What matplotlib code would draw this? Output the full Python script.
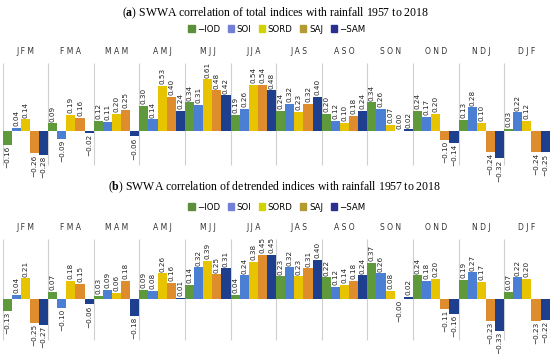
import numpy as np
import matplotlib.pyplot as plt
from matplotlib.patches import Patch

plt.rcParams['mathtext.fontset'] = 'custom'
plt.rcParams['mathtext.rm'] = 'Liberation Serif'
plt.rcParams['mathtext.bf'] = 'Liberation Serif:bold'

seasons = ["JFM", "FMA", "MAM", "AMJ", "MJJ", "JJA", "JAS", "ASO", "SON", "OND", "NDJ", "DJF"]
index_names = ["\u2212IOD", "SOI", "SORD", "SAJ", "\u2212SAM"]

# (a) total indices
tot_iod = [-0.16, 0.09, 0.12, 0.30, 0.34, 0.19, 0.24, 0.20, 0.34, 0.24, 0.13, 0.03]
tot_soi = [0.04, -0.09, 0.11, 0.14, 0.31, 0.26, 0.32, 0.12, 0.26, 0.17, 0.28, 0.22]
tot_sord = [0.14, 0.19, 0.20, 0.53, 0.61, 0.54, 0.23, 0.10, 0.07, 0.20, 0.10, 0.12]
tot_saj = [-0.26, 0.16, 0.25, 0.40, 0.48, 0.54, 0.32, 0.18, 0.00, -0.10, -0.24, -0.24]
tot_sam = [-0.28, -0.02, -0.06, 0.24, 0.42, 0.48, 0.40, 0.24, 0.02, -0.14, -0.32, -0.25]

# (b) detrended indices
det_iod = [-0.13, 0.07, 0.03, 0.09, 0.14, 0.04, 0.23, 0.22, 0.37, 0.24, 0.19, 0.07]
det_soi = [0.04, -0.10, 0.09, 0.08, 0.32, 0.24, 0.32, 0.12, 0.26, 0.18, 0.27, 0.22]
det_sord = [0.21, 0.18, 0.06, 0.26, 0.39, 0.38, 0.23, 0.14, 0.08, 0.20, 0.17, 0.20]
det_saj = [-0.25, 0.15, 0.18, 0.16, 0.25, 0.45, 0.31, 0.18, -0.0, -0.11, -0.23, -0.23]
det_sam = [-0.27, -0.06, -0.18, 0.01, 0.31, 0.45, 0.40, 0.24, 0.02, -0.16, -0.33, -0.22]

bar_colors = ["#5e9a3c", "#4a7fd4", "#e8c400", "#de8c2c", "#1d3f8e"]
legend_colors = ["#5b8f3a", "#7480d8", "#d2d200", "#b39a32", "#2b2f8f"]

fig = plt.figure(figsize=(5.5, 3.54), dpi=100)


def draw_panel(rect, series, ylim, month_y, sep_top, sep_bot, gap):
    ax = fig.add_axes(rect)
    for j, (vals, color) in enumerate(zip(series, bar_colors)):
        x = np.arange(len(seasons)) * 5 + j + 0.5
        ax.bar(x, vals, width=1.0, color=color, linewidth=0)
        for xi, v in zip(x, vals):
            txt = ("%.2f" % v).replace("-", "\u2212")
            if np.signbit(v):
                ax.text(xi, v - gap * 0.6, txt, rotation=90, ha='center', va='top',
                        fontsize=5.2, color='#222222')
            else:
                ax.text(xi, v + gap, txt, rotation=90, ha='center', va='bottom',
                        fontsize=5.2, color='#222222')
    ax.vlines(np.arange(0, 60, 5), sep_bot, sep_top, color='#d0d0d0', linewidth=0.8, zorder=0)
    for k, s in enumerate(seasons):
        ax.text(k * 5 + 2.5, month_y, " ".join(s), ha='center', va='center',
                fontsize=5.5, color='#333333')
    ax.set_xlim(0, 60)
    ax.set_ylim(*ylim)
    ax.axis('off')
    return ax


def add_header(letter, title, title_y, legend_y):
    fig.text(0.5, 1 - title_y / 354, r"($\mathbf{%s}$) " % letter + title,
             ha='center', va='center', fontsize=8.5, family='Liberation Serif')
    handles = [Patch(color=c) for c in legend_colors]
    fig.legend(handles, index_names, loc='center', bbox_to_anchor=(277 / 550, 1 - legend_y / 354),
               ncol=5, frameon=False, handlelength=0.7, handleheight=0.7,
               handletextpad=0.3, columnspacing=0.9, fontsize=6.2)


left = 2.5 / 550
width = 547.2 / 550

draw_panel([left, 1 - 172 / 354, width, 128 / 354],
           [tot_iod, tot_soi, tot_sord, tot_saj, tot_sam],
           (-0.48, 1.024), 0.93, 0.80, -0.40, 0.02)
add_header("a", "SWWA correlation of total indices with rainfall 1957 to 2018", 13, 29)

draw_panel([left, 5 / 354, width, 131 / 354],
           [det_iod, det_soi, det_sord, det_saj, det_sam],
           (-0.52, 0.83), 0.73, 0.61, -0.43, 0.017)
add_header("b", "SWWA correlation of detrended indices with rainfall 1957 to 2018", 187, 207)

fig.savefig("out.png", dpi=100)
